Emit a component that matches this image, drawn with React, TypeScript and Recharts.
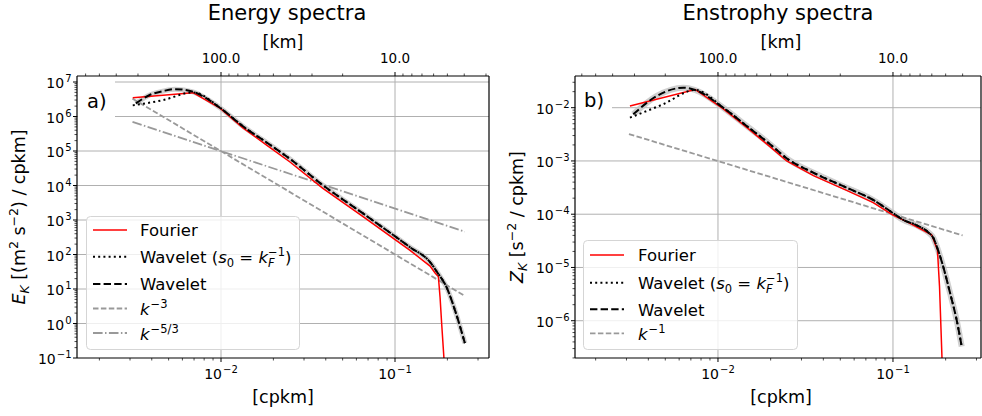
import React from 'react';
import { LineChart, Line, XAxis, YAxis, ReferenceLine } from 'recharts';

const FONT = '"DejaVu Sans", Verdana, sans-serif';

// wavenumber ticks [cpkm] (bottom) and wavelength ticks [km] (top)
const kMajor = [0.01, 0.1];
const kmMajor = [100, 10];

// a) energy spectra
const eFourierK = [0.00311, 0.0069, 0.00986, 0.01337, 0.01837, 0.0249, 0.0385, 0.0655, 0.122, 0.159, 0.17, 0.1775, 0.1816, 0.1854, 0.1914, 0.195];
const eFourier = [3.5e6, 4.9e6, 1.74e6, 4.7e5, 1.45e5, 4.8e4, 8.3e3, 1.26e3, 132, 46, 29, 23, 5.6, 1.0, 0.087, 0.01];
const eWaveletK = [0.00324, 0.00389, 0.00468, 0.00545, 0.0069, 0.00986, 0.01337, 0.01837, 0.0249, 0.0385, 0.0655, 0.122, 0.159, 0.174, 0.199, 0.221, 0.252];
const eWavelet = [2.4e6, 4.2e6, 5.5e6, 6.2e6, 5.2e6, 1.8e6, 5.2e5, 1.74e5, 5.9e4, 1.02e4, 1.55e3, 162, 60, 31.6, 10.5, 2.45, 0.27];
const eWaveletS0K = [0.00311, 0.00466, 0.0069, 0.00986, 0.01337, 0.01837, 0.0249, 0.0385, 0.0655, 0.122, 0.159, 0.174, 0.199, 0.221, 0.252];
const eWaveletS0 = [2.1e6, 3.0e6, 5.0e6, 1.8e6, 5.2e5, 1.74e5, 5.9e4, 1.02e4, 1.55e3, 162, 60, 31.6, 10.5, 2.45, 0.27];
const eSlope3K = [0.0031, 0.252];
const eSlope3 = [3.3e6, 6.3];
const eSlope53K = [0.0031, 0.252];
const eSlope53 = [7.0e5, 460];

// b) enstrophy spectra
const zFourierK = [0.00314, 0.0074, 0.01072, 0.01459, 0.01982, 0.0247, 0.0351, 0.0543, 0.0771, 0.1, 0.1197, 0.1663, 0.1795, 0.1845, 0.1905, 0.193];
const zFourier = [1.08e-2, 2.2e-2, 9.5e-3, 4.27e-3, 1.86e-3, 1.0e-3, 5.3e-4, 2.8e-4, 1.65e-4, 9.6e-5, 7.26e-5, 4.1e-5, 2.14e-5, 4.4e-6, 2.1e-7, 1e-8];
const zWaveletK = [0.00328, 0.00447, 0.00634, 0.0074, 0.01072, 0.01459, 0.01982, 0.0247, 0.0351, 0.0543, 0.0771, 0.1, 0.1146, 0.135, 0.16, 0.17, 0.178, 0.1936, 0.212, 0.231, 0.247];
const zWavelet = [7.5e-3, 1.66e-2, 2.37e-2, 2.15e-2, 1.0e-2, 4.54e-3, 2.06e-3, 1.12e-3, 6.0e-4, 3.15e-4, 1.85e-4, 1.05e-4, 7.8e-5, 6.3e-5, 4.5e-5, 3.6e-5, 2.47e-5, 1.04e-5, 3.3e-6, 1.04e-6, 3.28e-7];
const zWaveletS0K = [0.00314, 0.00486, 0.0074, 0.01072, 0.01459, 0.01982, 0.0247, 0.0351, 0.0543, 0.0771, 0.1, 0.1146, 0.135, 0.16, 0.17, 0.178, 0.1936, 0.212, 0.231, 0.247];
const zWaveletS0 = [6.5e-3, 1.16e-2, 2.15e-2, 1.0e-2, 4.54e-3, 2.06e-3, 1.12e-3, 6.0e-4, 3.15e-4, 1.85e-4, 1.05e-4, 7.8e-5, 6.3e-5, 4.5e-5, 3.6e-5, 2.47e-5, 1.04e-5, 3.3e-6, 1.04e-6, 3.28e-7];
const zSlope1K = [0.0031, 0.25];
const zSlope1 = [3.2e-3, 4.0e-5];

const pts = (k: number[], v: number[]) => k.map((x, i) => ({ k: x, v: v[i] }));

const isDecade = (v: number) => Math.abs(Math.log10(v) - Math.round(Math.log10(v))) < 1e-6;
const expText = (v: number) => {
  const e = Math.round(Math.log10(v));
  return e < 0 ? '\u2212' + -e : String(e);
};
const logTicks = (lo: number, hi: number) => {
  const out: number[] = [];
  for (let d = Math.floor(Math.log10(lo)); d <= Math.ceil(Math.log10(hi)); d++) {
    for (let m = 1; m <= 9; m++) {
      const v = m * Math.pow(10, d);
      if (v >= lo && v <= hi) out.push(v);
    }
  }
  return out;
};

const BottomTick = (p: any) => {
  const { x, y, payload } = p;
  const major = isDecade(payload.value);
  return (
    <g>
      <line x1={x} x2={x} y1={y} y2={y + (major ? 4 : 2.5)} stroke="#000" strokeWidth={major ? 1 : 0.7} />
      {major && (
        <text x={x} y={y + 21} textAnchor="middle" fontSize={14} fontFamily={FONT} fill="#000">
          10<tspan dx={1} dy={-6} fontSize={10}>{expText(payload.value)}</tspan>
        </text>
      )}
    </g>
  );
};

const TopTick = (p: any) => {
  const { x, y, payload } = p;
  const km = 1 / payload.value;
  const major = isDecade(km);
  return (
    <g>
      <line x1={x} x2={x} y1={y} y2={y - (major ? 4 : 2.5)} stroke="#000" strokeWidth={major ? 1 : 0.7} />
      {major && (
        <text x={x} y={y - 13} textAnchor="middle" fontSize={13.5} fontFamily={FONT} fill="#000">
          {km.toFixed(1)}
        </text>
      )}
    </g>
  );
};

const LeftTick = (p: any) => {
  const { x, y, payload } = p;
  const major = isDecade(payload.value);
  return (
    <g>
      <line x1={x} x2={x - (major ? 4 : 2.5)} y1={y} y2={y} stroke="#000" strokeWidth={major ? 1 : 0.7} />
      {major && (
        <text x={x - 5.5} y={y + 6} textAnchor="end" fontSize={14} fontFamily={FONT} fill="#000">
          10<tspan dx={1} dy={-6} fontSize={10}>{expText(payload.value)}</tspan>
        </text>
      )}
    </g>
  );
};

type Series = { data: { k: number; v: number }[]; stroke: string; width: number; dash?: string; opacity?: number; curve?: 'monotone' | 'linear' };

type PanelProps = {
  left: number;
  width: number;
  yAxisWidth: number;
  xDomain: [number, number];
  yDomain: [number, number];
  series: Series[];
};

const Panel = ({ left, width, yAxisWidth, xDomain, yDomain, series }: PanelProps) => {
  const xTicks = logTicks(xDomain[0], xDomain[1]);
  const topTicks = logTicks(1 / xDomain[1], 1 / xDomain[0]).map((km) => 1 / km).filter((v) => v >= xDomain[0] && v <= xDomain[1]);
  const yTicks = logTicks(yDomain[0], yDomain[1]);
  const yGrid = yTicks.filter(isDecade).filter((v) => v > yDomain[0]);
  const frame = { stroke: '#000', strokeWidth: 1.2 };
  return (
    <div style={{ position: 'absolute', left, top: 0 }}>
      <LineChart width={width} height={416} margin={{ top: 0, right: 1, bottom: 0, left: 0 }}>
        <XAxis xAxisId="b" dataKey="k" type="number" scale="log" domain={xDomain} allowDataOverflow ticks={xTicks} interval={0}
          height={58} tickSize={0} tickMargin={0} tickLine={false} axisLine={frame} tick={<BottomTick />} />
        <XAxis xAxisId="t" orientation="top" dataKey="k" type="number" scale="log" domain={xDomain} allowDataOverflow ticks={topTicks} interval={0}
          height={76} tickSize={0} tickMargin={0} tickLine={false} axisLine={frame} tick={<TopTick />} />
        <YAxis yAxisId="l" dataKey="v" type="number" scale="log" domain={yDomain} allowDataOverflow ticks={yTicks} interval={0}
          width={yAxisWidth} tickSize={0} tickMargin={0} tickLine={false} axisLine={frame} tick={<LeftTick />} />
        {yGrid.map((v) => (
          <ReferenceLine key={'y' + v} xAxisId="b" yAxisId="l" y={v} stroke="#b0b0b0" strokeWidth={1} />
        ))}
        {kMajor.map((k) => (
          <ReferenceLine key={'x' + k} xAxisId="b" yAxisId="l" x={k} stroke="#b0b0b0" strokeWidth={1} />
        ))}
        {series.map((s, i) => (
          <Line key={i} xAxisId="b" yAxisId="l" data={s.data} dataKey="v" type={s.curve || 'monotone'} stroke={s.stroke}
            strokeWidth={s.width} strokeDasharray={s.dash} strokeOpacity={s.opacity ?? 1} dot={false} activeDot={false}
            isAnimationActive={false} legendType="none" />
        ))}
        <ReferenceLine xAxisId="b" yAxisId="l" x={xDomain[1]} ifOverflow="visible" stroke="#000" strokeWidth={1.2} />
      </LineChart>
    </div>
  );
};

const RED = '#ff0000';
const GREY = '#999999';
const BAND = '#c4c4c4';
const DOT = '2 3.2';
const DASH = '7.4 3.2';
const GDASH = '5.5 2.4';
const DASHDOT = '9.6 2.4 1.5 2.4';

const energySeries: Series[] = [
  { data: pts(eWaveletK, eWavelet), stroke: BAND, width: 5, opacity: 0.8 },
  { data: pts(eSlope3K, eSlope3), stroke: GREY, width: 1.8, dash: GDASH, curve: 'linear' },
  { data: pts(eSlope53K, eSlope53), stroke: GREY, width: 1.8, dash: DASHDOT, curve: 'linear' },
  { data: pts(eFourierK, eFourier), stroke: RED, width: 1.5, curve: 'linear' },
  { data: pts(eWaveletS0K, eWaveletS0), stroke: '#000', width: 2, dash: DOT },
  { data: pts(eWaveletK, eWavelet), stroke: '#000', width: 2, dash: DASH },
];

const enstrophySeries: Series[] = [
  { data: pts(zWaveletK, zWavelet), stroke: BAND, width: 6, opacity: 0.8 },
  { data: pts(zSlope1K, zSlope1), stroke: GREY, width: 1.8, dash: GDASH, curve: 'linear' },
  { data: pts(zFourierK, zFourier), stroke: RED, width: 1.5, curve: 'linear' },
  { data: pts(zWaveletS0K, zWaveletS0), stroke: '#000', width: 2, dash: DOT },
  { data: pts(zWaveletK, zWavelet), stroke: '#000', width: 2, dash: DASH },
];

const LFS = 16.5;
const SFS = 11.5;

const Sample = ({ x, y, stroke, width, dash }: { x: number; y: number; stroke: string; width: number; dash?: string }) => (
  <line x1={x} x2={x + 34} y1={y} y2={y} stroke={stroke} strokeWidth={width} strokeDasharray={dash} />
);

const Waveletks0 = ({ x, y }: { x: number; y: number }) => (
  <text x={x} y={y} fontSize={LFS}>
    Wavelet (<tspan fontStyle="italic">s</tspan>
    <tspan fontSize={SFS} dy={3.5}>0</tspan>
    <tspan dy={-3.5}>{' = '}</tspan>
    <tspan fontStyle="italic">k</tspan>
    <tspan fontSize={SFS} fontStyle="italic" dy={4}>F</tspan>
    <tspan fontSize={SFS} dx={-6.6} dy={-11}>{'\u22121'}</tspan>
    <tspan dy={7}>)</tspan>
  </text>
);

const KPow = ({ x, y, exp }: { x: number; y: number; exp: string }) => (
  <text x={x} y={y} fontSize={LFS}>
    <tspan fontStyle="italic">k</tspan>
    <tspan fontSize={SFS} dx={1} dy={-7}>{exp}</tspan>
  </text>
);

const Overlay = () => (
  <svg width={982} height={416} style={{ position: 'absolute', left: 0, top: 0, pointerEvents: 'none' }} fontFamily={FONT} fill="#000">
    {/* titles */}
    <text x={287} y={20} textAnchor="middle" fontSize={21}>Energy spectra</text>
    <text x={778} y={20} textAnchor="middle" fontSize={21}>Enstrophy spectra</text>
    <text x={283} y={47.5} textAnchor="middle" fontSize={17.5}>[km]</text>
    <text x={781} y={47.5} textAnchor="middle" fontSize={17.5}>[km]</text>
    <text x={283} y={402.5} textAnchor="middle" fontSize={17.5}>[cpkm]</text>
    <text x={781} y={402.5} textAnchor="middle" fontSize={17.5}>[cpkm]</text>

    {/* y labels */}
    <text transform="rotate(-90 25 217)" x={25} y={217} textAnchor="middle" fontSize={17.5}>
      <tspan fontStyle="italic">E</tspan>
      <tspan fontSize={12.5} fontStyle="italic" dy={3.5}>K</tspan>
      <tspan dy={-3.5}>{' [(m'}</tspan>
      <tspan fontSize={12.5} dy={-7}>2</tspan>
      <tspan dy={7}>{' s'}</tspan>
      <tspan fontSize={12.5} dy={-7}>{'\u22122'}</tspan>
      <tspan dy={7}>{') / cpkm]'}</tspan>
    </text>
    <text transform="rotate(-90 523 217)" x={523} y={217} textAnchor="middle" fontSize={17.5}>
      <tspan fontStyle="italic">Z</tspan>
      <tspan fontSize={12.5} fontStyle="italic" dy={3.5}>K</tspan>
      <tspan dy={-3.5}>{' [s'}</tspan>
      <tspan fontSize={12.5} dy={-7}>{'\u22122'}</tspan>
      <tspan dy={7}>{' / cpkm]'}</tspan>
    </text>

    {/* panel letters */}
    <rect x={78} y={78} width={37} height={44} fill="#fff" />
    <text x={87} y={108} fontSize={19.5}>a)</text>
    <rect x={576} y={84} width={36} height={42} fill="#fff" />
    <text x={584} y={107} fontSize={19.5}>b)</text>

    {/* legend a */}
    <rect x={86.5} y={216.5} width={213} height={133} rx={4} fill="#fff" fillOpacity={0.8} stroke="#d5d5d5" strokeWidth={1} />
    <Sample x={93} y={230} stroke={RED} width={1.5} />
    <text x={140} y={236} fontSize={LFS}>Fourier</text>
    <Sample x={93} y={256.7} stroke="#000" width={2} dash={DOT} />
    <Waveletks0 x={140} y={263} />
    <Sample x={93} y={284} stroke="#000" width={2} dash={DASH} />
    <text x={140} y={290} fontSize={LFS}>Wavelet</text>
    <Sample x={93} y={308.5} stroke={GREY} width={1.8} dash={GDASH} />
    <KPow x={140} y={315} exp={'\u22123'} />
    <Sample x={93} y={333} stroke={GREY} width={1.8} dash={DASHDOT} />
    <KPow x={140} y={340} exp={'\u22125/3'} />

    {/* legend b */}
    <rect x={583.5} y={240.5} width={214} height={109} rx={4} fill="#fff" fillOpacity={0.8} stroke="#d5d5d5" strokeWidth={1} />
    <Sample x={590} y={255} stroke={RED} width={1.5} />
    <text x={638} y={261} fontSize={LFS}>Fourier</text>
    <Sample x={590} y={282.7} stroke="#000" width={2} dash={DOT} />
    <Waveletks0 x={638} y={289} />
    <Sample x={590} y={309.3} stroke="#000" width={2} dash={DASH} />
    <text x={638} y={315.5} fontSize={LFS}>Wavelet</text>
    <Sample x={590} y={333.3} stroke={GREY} width={1.8} dash={GDASH} />
    <KPow x={638} y={340} exp={'\u22121'} />
  </svg>
);

export default function App() {
  return (
    <div style={{ position: 'absolute', left: 0, top: 0, width: 982, height: 416, background: '#fff', fontFamily: FONT }}>
      <Panel left={0} width={490} yAxisWidth={77} xDomain={[Math.pow(10, -2.8276), Math.pow(10, -0.4598)]}
        yDomain={[0.1, Math.pow(10, 7.174)]} series={energySeries} />
      <Panel left={490} width={492} yAxisWidth={85} xDomain={[Math.pow(10, -2.817), Math.pow(10, -0.497)]}
        yDomain={[Math.pow(10, -6.7), Math.pow(10, -1.405)]} series={enstrophySeries} />
      <Overlay />
    </div>
  );
}
